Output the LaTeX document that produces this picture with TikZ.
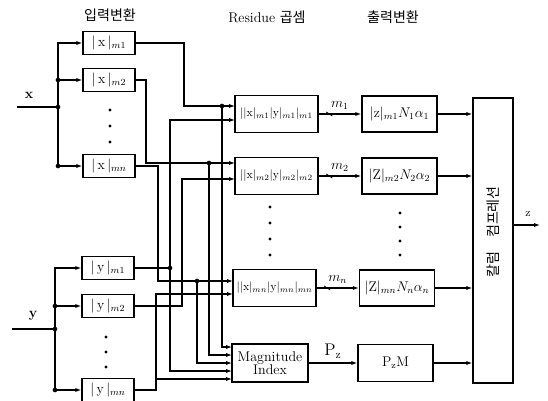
\documentclass[tikz,border=0pt]{standalone}
\usepackage{fontspec}
\newfontfamily\krfont{Noto Sans CJK KR}
\usepackage{tikz}
\usetikzlibrary{arrows.meta,positioning,calc}

\tikzset{
  inbox/.style={draw,minimum width=1.56cm,minimum height=0.69cm,inner sep=1pt,font=\large},
  resbox/.style={draw,minimum width=2.49cm,minimum height=1.11cm,inner sep=1pt},
  outbox/.style={draw,minimum width=2.25cm,minimum height=1.08cm,inner sep=1pt,font=\large},
}

\begin{document}
\begin{tikzpicture}[x=0.03cm,y=-0.03cm,line width=1.1pt,>={Latex[length=5pt,width=3.5pt]}]
  \useasboundingbox (0,0) rectangle (548,401);
  % titles
  \node (t1) at (110,15) {\large\krfont 입력변환};
  \node (t2) at (267,17) {\large Residue {\krfont 곱셈}};
  \node (t3) at (393,17) {\large\krfont 출력변환};
  % input conversion, x
  \node[inbox] (xm1) at (109,43) {$|\,\mathrm{x}\,|_{m1}$};
  \node[inbox] (xm2) at (109,80) {$|\,\mathrm{x}\,|_{m2}$};
  \node[inbox] (xmn) at (109,166) {$|\,\mathrm{x}\,|_{mn}$};
  \coordinate (xin) at (17,107);
  \coordinate (xj) at (58,107);
  \node (xlab) at (29,95) {\large\textbf{x}};
  \draw (xin) -- (xj);
  \draw[->] (xj) |- (xm1);
  \draw[->] (xj) |- (xm2);
  \draw[->] (xj) |- (xmn);
  \fill (xj) circle (2pt);
  \fill (xj |- xm2) circle (2pt);
  \fill (xj |- xmn) circle (2pt);
  \fill (110,110) circle (1.3pt);
  \fill (110,126) circle (1.3pt);
  \fill (110,142) circle (1.3pt);
  % input conversion, y
  \node[inbox] (ym1) at (108,268) {$|\,\mathrm{y}\,|_{m1}$};
  \node[inbox] (ym2) at (108,306) {$|\,\mathrm{y}\,|_{m2}$};
  \node[inbox] (ymn) at (108,390) {$|\,\mathrm{y}\,|_{mn}$};
  \coordinate (yin) at (12,329);
  \coordinate (yj) at (55,329);
  \node (ylab) at (33,316) {\large\textbf{y}};
  \draw (yin) -- (yj);
  \draw[->] (yj) |- (ym1);
  \draw[->] (yj) |- (ym2);
  \draw[->] (yj) |- (ymn);
  \fill (yj) circle (2pt);
  \fill (yj |- ym2) circle (2pt);
  \fill (yj |- ymn) circle (2pt);
  \fill (106,337) circle (1.3pt);
  \fill (106,352) circle (1.3pt);
  \fill (106,367) circle (1.3pt);
  % residue multiplication
  \node[resbox] (r1) at (276.5,114) {$||\mathrm{x}|_{m1}|\mathrm{y}|_{m1}|_{m1}$};
  \node[resbox] (r2) at (276.5,176) {$||\mathrm{x}|_{m2}|\mathrm{y}|_{m2}|_{m2}$};
  \node[resbox] (rn) at (274.5,288) {$||\mathrm{x}|_{mn}|\mathrm{y}|_{mn}|_{mn}$};
  \node[draw,minimum width=2.28cm,minimum height=1.14cm,align=center,inner sep=1pt,font=\large] (mi) at (270,363) {Magnitude\\[-3pt]Index};
  \fill (270,207) circle (1.3pt);
  \fill (270,223) circle (1.3pt);
  \fill (270,239) circle (1.3pt);
  \fill (270,255) circle (1.3pt);
  % ports
  \coordinate (r1a) at (235,106);
  \coordinate (r1b) at (235,120);
  \coordinate (r2a) at (235,163);
  \coordinate (r2b) at (235,179);
  \coordinate (rna) at (233,281);
  \coordinate (rnb) at (233,294);
  \coordinate (mi1) at (232,347);
  \coordinate (mi2) at (232,355);
  \coordinate (mi3) at (232,363);
  \coordinate (mi4) at (232,371);
  \coordinate (mi5) at (232,379);
  % junctions
  \coordinate (d1) at (222,106);
  \coordinate (d2) at (209,163);
  \coordinate (d3) at (197,281);
  \coordinate (d4) at (170,268);
  \coordinate (t5) at (156,379);
  % wiring
  \draw[->] (xm1.east) -| (184,106) -- (r1a);
  \draw[->] (xm2.east) -| (146,163) -- (r2a);
  \draw[->] (xmn.east) -| (158,281) -- (rna);
  \draw (ym1.east) -- (d4);
  \draw[->] (d4) |- (r1b);
  \draw[->] (ym2.east) -| (182,179) -- (r2b);
  \draw[->] (ymn.east) -| (156,294) -- (rnb);
  \draw[->] (d1) |- (mi1);
  \draw[->] (d2) |- (mi2);
  \draw[->] (d3) |- (mi3);
  \draw[->] (d4) |- (mi4);
  \draw[->] (t5) -- (mi5);
  \fill (d1) circle (2pt);
  \fill (d2) circle (2pt);
  \fill (d3) circle (2pt);
  \fill (d4) circle (2pt);
  % output conversion
  \node[outbox] (o1) at (399.5,114) {$|\mathrm{z}|_{m1}N_1\alpha_1$};
  \node[outbox] (o2) at (399.5,176) {$|\mathrm{Z}|_{m2}N_2\alpha_2$};
  \node[outbox] (on) at (397,288) {$|\mathrm{Z}|_{mn}N_n\alpha_n$};
  \node[draw,minimum width=2.25cm,minimum height=1.11cm,font=\large] (op) at (395.5,363) {$\mathrm{P_zM}$};
  \fill (400,213) circle (1.3pt);
  \fill (400,227) circle (1.3pt);
  \fill (400,241) circle (1.3pt);
  \fill (400,255) circle (1.3pt);
  \draw[->] (r1) -- coordinate[pos=.25] (s1) node[midway,above] {\large$m_1$} (o1);
  \draw[->] (r2) -- coordinate[pos=.25] (s2) node[midway,above] {\large$m_2$} (o2);
  \draw[->] (rn) -- coordinate[pos=.25] (s3) node[midway,above] {\large$m_n$} (on);
  \draw[line width=.7pt] (s1) ++(-3,-2) -- ++(6,4);
  \draw[line width=.7pt] (s2) ++(-3,-2) -- ++(6,4);
  \draw[line width=.7pt] (s3) ++(-3,-2) -- ++(6,4);
  \draw[->] (mi) -- node[above] {\Large$\mathrm{P_z}$} (op);
  % column compression
  \node[draw,minimum width=1.2cm,minimum height=8.55cm] (cc) at (493,240.5) {};
  \node[rotate=90] (cctxt) at (493,232) {\large\krfont 칼럼\quad 컴프레션};
  \draw[->] (o1) -- (o1 -| cc.west);
  \draw[->] (o2) -- (o2 -| cc.west);
  \draw[->] (on) -- (on -| cc.west);
  \draw[->] (op) -- (op -| cc.west);
  \coordinate (zout) at (540,225);
  \draw[->] (cc.east |- zout) -- (zout);
  \node (zlab) at (528,214) {z};
\end{tikzpicture}
\end{document}
